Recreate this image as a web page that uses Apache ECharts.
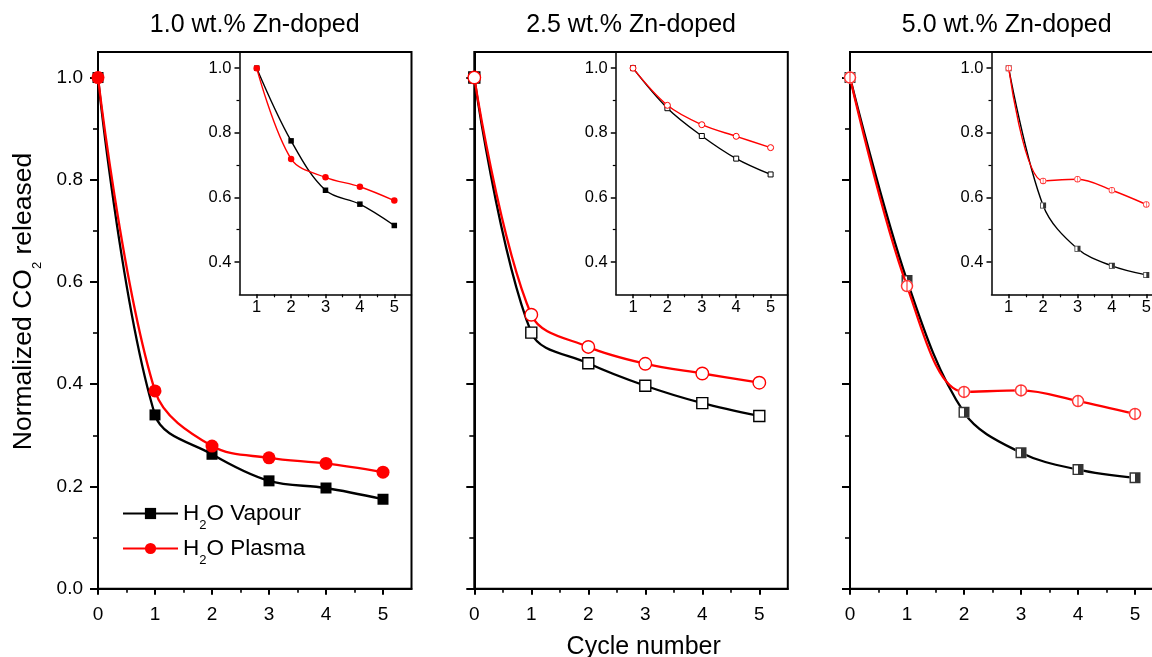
<!DOCTYPE html>
<html><head><meta charset="utf-8">
<script src="https://cdn.jsdelivr.net/npm/echarts@6/dist/echarts.min.js"></script>
<style>html,body{margin:0;padding:0;background:#fff}#c{width:1152px;height:657px}</style>
</head><body><div id="c"></div>
<script>
const FONT = "'Liberation Sans', Arial, Helvetica, sans-serif";

// ---------- data ----------
const cycles = [0, 1, 2, 3, 4, 5];
const insetCycles = [1, 2, 3, 4, 5];
const panelTitles = ['1.0 wt.% Zn-doped', '2.5 wt.% Zn-doped', '5.0 wt.% Zn-doped'];
const legendNames = ['H2O Vapour', 'H2O Plasma'];

const vapour10 = [1.0, 0.340, 0.263, 0.211, 0.197, 0.175];
const plasma10 = [1.0, 0.387, 0.279, 0.256, 0.245, 0.228];
const vapour25 = [1.0, 0.501, 0.441, 0.397, 0.363, 0.338];
const plasma25 = [1.0, 0.536, 0.473, 0.440, 0.421, 0.403];
const vapour50 = [1.0, 0.603, 0.345, 0.266, 0.233, 0.217];
const plasma50 = [1.0, 0.592, 0.385, 0.388, 0.367, 0.342];

const insetVapour10 = [1.0, 0.775, 0.622, 0.579, 0.513];
const insetPlasma10 = [1.0, 0.719, 0.662, 0.633, 0.590];
const insetVapour25 = [1.0, 0.876, 0.790, 0.720, 0.671];
const insetPlasma25 = [1.0, 0.885, 0.825, 0.789, 0.754];
const insetVapour50 = [1.0, 0.575, 0.441, 0.388, 0.360];
const insetPlasma50 = [1.0, 0.651, 0.656, 0.622, 0.578];

const mainXTicks = [0, 1, 2, 3, 4, 5];
const mainXMinor = [0.5, 1.5, 2.5, 3.5, 4.5];
const mainYTicks = [0, 0.2, 0.4, 0.6, 0.8, 1.0];
const mainYMinor = [0.1, 0.3, 0.5, 0.7, 0.9];
const insetXTicks = [1, 2, 3, 4, 5];
const insetXMinor = [1.5, 2.5, 3.5, 4.5];
const insetYTicks = [0.4, 0.6, 0.8, 1.0];
const insetYMinor = [0.5, 0.7, 0.9];

// ---------- layout ----------
const MAIN_LEFT = [98, 474.3, 850];
const MAIN_TOP = 52, MAIN_W = 313.5, MAIN_H = 536.7;
const INSET_DX = 141.5, INSET_W = 172, INSET_H = 242.3;
const SMOOTH = 0.35;

const mainData = [[vapour10, plasma10], [vapour25, plasma25], [vapour50, plasma50]];
const insetData = [[insetVapour10, insetPlasma10], [insetVapour25, insetPlasma25], [insetVapour50, insetPlasma50]];
const styles = ['filled', 'open', 'half'];

const HALF_SQUARE = 'path://M0,0L20,0L20,20L0,20Z M2.6,2.6L2.6,17.4L10,17.4L10,2.6Z';
const HALF_CIRCLE = 'path://M10,0A10,10,0,1,1,10,20A10,10,0,1,1,10,0Z M10,2.4A7.6,7.6,0,1,0,10,17.6A7.6,7.6,0,1,0,10,2.4Z M9.1,2L10.9,2L10.9,18L9.1,18Z';

const grids = [], xAxes = [], yAxes = [], series = [];

function lbl(show, size, margin, fmt, values) {
  const o = { show, fontSize: size, fontFamily: FONT, color: '#000', margin };
  if (fmt) o.formatter = fmt;
  if (values) o.customValues = values;
  return o;
}
const fix1 = v => v.toFixed(1);

function addAxes(gi, inset, showYLabels) {
  const lw = inset ? 1.5 : 2;
  const xmin = inset ? 0.5 : 0, xmax = 5.5;
  const ymin = inset ? 0.3 : 0, ymax = 1.05;
  const xT = inset ? insetXTicks : mainXTicks, xM = inset ? insetXMinor : mainXMinor;
  const yT = inset ? insetYTicks : mainYTicks, yM = inset ? insetYMinor : mainYMinor;
  const fs = inset ? 16.5 : 19;
  xAxes.push({
    type: 'value', gridIndex: gi, min: xmin, max: xmax, position: 'bottom',
    axisLine: { show: true, onZero: false, lineStyle: { color: '#000', width: lw } },
    axisTick: { show: true, customValues: xT, length: inset ? 4 : 6, lineStyle: { color: '#000', width: lw } },
    axisLabel: lbl(true, fs, inset ? 5 : 17, null, xT),
    splitLine: { show: false }
  });
  xAxes.push({
    type: 'value', gridIndex: gi, min: xmin, max: xmax, position: 'bottom',
    axisLine: { show: false },
    axisTick: { show: true, customValues: xM, length: inset ? 3 : 4, lineStyle: { color: '#000', width: lw * 0.8 } },
    axisLabel: { show: false }, splitLine: { show: false }
  });
  yAxes.push({
    type: 'value', gridIndex: gi, min: ymin, max: ymax, position: 'left',
    axisLine: { show: true, onZero: false, lineStyle: { color: '#000', width: lw } },
    axisTick: { show: true, customValues: yT, length: inset ? 5 : 8, lineStyle: { color: '#000', width: lw } },
    axisLabel: lbl(showYLabels, fs, inset ? 8 : 15, fix1, yT),
    splitLine: { show: false }
  });
  yAxes.push({
    type: 'value', gridIndex: gi, min: ymin, max: ymax, position: 'left', offset: 0,
    axisLine: { show: false },
    axisTick: { show: true, customValues: yM, length: inset ? 3 : 5, lineStyle: { color: '#000', width: lw * 0.8 } },
    axisLabel: { show: false }, splitLine: { show: false }
  });
}

function addSeries(gi, xs, ys, kind, style, inset, name) {
  const col = kind === 'vapour' ? '#000' : '#ff0000';
  const isSq = kind === 'vapour';
  const pts = xs.map((x, i) => [x, ys[i]]);
  let size, itemStyle;
  if (style === 'filled') {
    size = isSq ? (inset ? 5.5 : 11) : (inset ? 6.5 : 13);
    itemStyle = { color: col };
  } else if (style === 'open') {
    size = isSq ? (inset ? 5 : 11) : (inset ? 6 : 12.5);
    itemStyle = { color: '#fff', borderColor: col, borderWidth: inset ? 1 : 1.4 };
  } else {
    size = isSq ? (inset ? 6 : 11) : (inset ? 6.5 : 12.5);
    itemStyle = { color: '#fff', borderWidth: 0 };
  }
  series.push({
    type: 'line', name, xAxisIndex: 2 * gi, yAxisIndex: 2 * gi, data: pts,
    smooth: SMOOTH, symbol: isSq ? 'rect' : 'circle', symbolSize: size, showAllSymbol: true,
    lineStyle: { color: col, width: inset ? 1.4 : 2.3 }, itemStyle,
    emphasis: { disabled: true }, z: isSq ? 3 : 4, animation: false, silent: true
  });
  if (style === 'half') {
    series.push({
      type: 'scatter', xAxisIndex: 2 * gi, yAxisIndex: 2 * gi, data: pts,
      symbol: isSq ? HALF_SQUARE : HALF_CIRCLE, symbolSize: size,
      itemStyle: { color: col }, emphasis: { disabled: true }, z: isSq ? 3 : 4, animation: false, silent: true
    });
  }
}

for (let p = 0; p < 3; p++) {
  const L = MAIN_LEFT[p];
  const gMain = 2 * p, gIns = 2 * p + 1;
  grids.push({ left: L, top: MAIN_TOP, width: MAIN_W, height: MAIN_H, show: true,
    borderColor: '#000', borderWidth: 2, backgroundColor: 'transparent', outerBoundsMode: 'none', containLabel: false });
  grids.push({ left: L + INSET_DX, top: MAIN_TOP, width: INSET_W, height: INSET_H, show: false,
    outerBoundsMode: 'none', containLabel: false });
  addAxes(gMain, false, p === 0);
  addAxes(gIns, true, true);
  const nm = p === 0 ? legendNames : ['v' + p, 'p' + p];
  addSeries(gMain, cycles, mainData[p][0], 'vapour', styles[p], false, nm[0]);
  addSeries(gMain, cycles, mainData[p][1], 'plasma', styles[p], false, nm[1]);
  addSeries(gIns, insetCycles, insetData[p][0], 'vapour', styles[p], true, 'iv' + p);
  addSeries(gIns, insetCycles, insetData[p][1], 'plasma', styles[p], true, 'ip' + p);
}

const graphics = panelTitles.map((t, i) => ({
  type: 'text', x: MAIN_LEFT[i] + MAIN_W / 2, y: 25, silent: true,
  style: { text: t, fontSize: 25, fontFamily: FONT, fill: '#000', align: 'center', verticalAlign: 'middle' }
}));
graphics.push({
  type: 'text', x: 24, y: 301.5, rotation: Math.PI / 2, silent: true,
  style: {
    text: '{n|Normalized CO}{s|2}{n| released}', align: 'center', verticalAlign: 'middle',
    rich: { n: { fontSize: 26.5, fontFamily: FONT, fill: '#000', color: '#000' },
            s: { fontSize: 13, fontFamily: FONT, fill: '#000', color: '#000', padding: [27, 0, 0, 0] } }
  }
});
graphics.push({
  type: 'text', x: 643.7, y: 647, silent: true,
  style: { text: 'Cycle number', fontSize: 25, fontFamily: FONT, fill: '#000', align: 'center', verticalAlign: 'middle' }
});

const chart = echarts.init(document.getElementById('c'), null, { renderer: 'canvas' });
chart.setOption({
  animation: false,
  backgroundColor: '#fff',
  grid: grids, xAxis: xAxes, yAxis: yAxes, series,
  legend: {
    data: legendNames, orient: 'vertical', left: 122, top: 502, padding: 0,
    itemWidth: 55, itemHeight: 14, itemGap: 5,
    selectedMode: false,
    formatter: n => n === 'H2O Vapour' ? '{n|H}{s|2}{n|O Vapour}' : '{n|H}{s|2}{n|O Plasma}',
    textStyle: { rich: {
      n: { fontSize: 22.5, fontFamily: FONT, color: '#000' },
      s: { fontSize: 13, fontFamily: FONT, color: '#000', padding: [24, 0, 0, 0] }
    } }
  },
  graphic: graphics
});
</script>
</body></html>
